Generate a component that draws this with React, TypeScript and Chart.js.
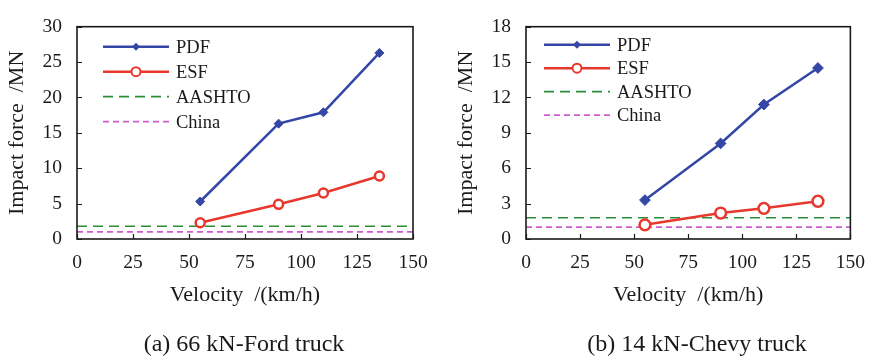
import React, { useEffect, useRef } from "react";
import { Chart, registerables } from "chart.js";

Chart.register(...registerables);

// Impact velocities (km/h) at which each truck model was run
const velocities = [55, 90, 110, 135];

// Peak impact force, MN — 66 kN Ford truck
const fordPdf = [5.3, 16.3, 17.9, 26.3];
const fordEsf = [2.3, 4.9, 6.5, 8.9];

// Peak impact force, MN — 14 kN Chevy truck
const chevyPdf = [3.3, 8.1, 11.4, 14.5];
const chevyEsf = [1.2, 2.2, 2.6, 3.2];

// Design code static loads, MN
const aashtoLimit = 1.8;
const chinaLimit = 1.0;

const velocityMin = 0;
const velocityMax = 150;
const velocityStep = 25;
const fordForceMax = 30;
const fordForceStep = 5;
const chevyForceMax = 18;
const chevyForceStep = 3;

const seriesNames = ["PDF", "ESF", "AASHTO", "China"];
const captions = ["(a) 66 kN-Ford truck", "(b) 14 kN-Chevy truck"];
const xTitle = "Velocity  /(km/h)";
const yTitle = "Impact force  /MN";

const SERIF = "'Liberation Serif', 'Times New Roman', serif";
const BLUE = "#3447a6";
const RED = "#e8372c";
const GREEN = "#2a8f34";
const MAGENTA = "#cf5ccd";
const INK = "#1a1a1a";

type PanelSpec = {
  width: number;
  pdf: number[];
  esf: number[];
  yMax: number;
  yStep: number;
  yAxisWidth: number;
  yTitlePad: number;
  padTop: number;
  padRight: number;
  markerScale: number;
  legend: { dx: number; dy: number; gap: number };
};

// Box frame, inward tick marks and an in-plot legend
const framePlugin = {
  id: "frame",
  afterDraw(chart: any, _args: any, opts: any) {
    const { ctx, chartArea: a, scales } = chart;
    ctx.save();
    ctx.strokeStyle = INK;
    ctx.lineWidth = 1.6;
    ctx.strokeRect(a.left, a.top, a.right - a.left, a.bottom - a.top);

    ctx.beginPath();
    ctx.lineWidth = 1.2;
    for (const t of scales.x.ticks) {
      const px = Math.round(scales.x.getPixelForValue(t.value)) + 0.5;
      ctx.moveTo(px, a.bottom);
      ctx.lineTo(px, a.bottom - 5);
    }
    for (const t of scales.y.ticks) {
      const py = Math.round(scales.y.getPixelForValue(t.value)) + 0.5;
      ctx.moveTo(a.left, py);
      ctx.lineTo(a.left + 5, py);
    }
    ctx.stroke();

    // legend
    const x0 = a.left + opts.dx;
    const lineLen = 66;
    chart.data.datasets.forEach((ds: any, i: number) => {
      const y = a.top + opts.dy + i * opts.gap;
      ctx.save();
      ctx.strokeStyle = ds.borderColor;
      ctx.lineWidth = ds.borderWidth;
      ctx.setLineDash(ds.borderDash || []);
      ctx.beginPath();
      ctx.moveTo(x0, y);
      ctx.lineTo(x0 + lineLen, y);
      ctx.stroke();
      ctx.setLineDash([]);
      const cx = x0 + lineLen / 2;
      if (ds.pointStyle === "rectRot") {
        const r = 4;
        ctx.fillStyle = ds.borderColor;
        ctx.beginPath();
        ctx.moveTo(cx, y - r);
        ctx.lineTo(cx + r, y);
        ctx.lineTo(cx, y + r);
        ctx.lineTo(cx - r, y);
        ctx.closePath();
        ctx.fill();
      } else if (ds.pointStyle === "circle" && ds.pointRadius > 0) {
        ctx.fillStyle = "#fff";
        ctx.lineWidth = 2;
        ctx.beginPath();
        ctx.arc(cx, y, 4.5, 0, Math.PI * 2);
        ctx.fill();
        ctx.stroke();
      }
      ctx.fillStyle = INK;
      ctx.font = `18.5px ${SERIF}`;
      ctx.textBaseline = "middle";
      ctx.textAlign = "left";
      ctx.fillText(ds.label, x0 + lineLen + 7, y + 1);
      ctx.restore();
    });
    ctx.restore();
  },
};

function points(ys: number[]) {
  return velocities.map((v, i) => ({ x: v, y: ys[i] }));
}

function levelLine(y: number) {
  return [
    { x: velocityMin, y },
    { x: velocityMax, y },
  ];
}

function Panel({ spec }: { spec: PanelSpec }) {
  const ref = useRef<HTMLCanvasElement | null>(null);

  useEffect(() => {
    if (!ref.current) return;
    const m = spec.markerScale;
    const chart = new Chart(ref.current, {
      type: "line",
      data: {
        datasets: [
          {
            label: seriesNames[0],
            data: points(spec.pdf),
            borderColor: BLUE,
            backgroundColor: BLUE,
            borderWidth: 2.5,
            pointStyle: "rectRot",
            pointRadius: 4.5 * m,
            pointBackgroundColor: BLUE,
            pointBorderColor: BLUE,
            pointBorderWidth: 1,
          },
          {
            label: seriesNames[1],
            data: points(spec.esf),
            borderColor: RED,
            backgroundColor: RED,
            borderWidth: 2.5,
            pointStyle: "circle",
            pointRadius: 4.5 * m,
            pointBackgroundColor: "#ffffff",
            pointBorderColor: RED,
            pointBorderWidth: 2.5,
          },
          {
            label: seriesNames[2],
            data: levelLine(aashtoLimit),
            borderColor: GREEN,
            borderWidth: 1.7,
            borderDash: [10, 6],
            pointRadius: 0,
            pointStyle: "line",
          },
          {
            label: seriesNames[3],
            data: levelLine(chinaLimit),
            borderColor: MAGENTA,
            borderWidth: 1.7,
            borderDash: [6, 4],
            pointRadius: 0,
            pointStyle: "line",
          },
        ],
      },
      options: {
        animation: false,
        responsive: false,
        maintainAspectRatio: false,
        layout: {
          padding: { top: spec.padTop, right: spec.padRight, bottom: 48, left: 0 },
        },
        plugins: {
          legend: { display: false },
          tooltip: { enabled: false },
          frame: spec.legend,
        } as any,
        scales: {
          x: {
            type: "linear",
            min: velocityMin,
            max: velocityMax,
            ticks: {
              stepSize: velocityStep,
              padding: 12,
              color: INK,
              font: { family: SERIF, size: 19.5 },
            },
            grid: { drawOnChartArea: false, drawTicks: false },
            border: { display: false },
            title: {
              display: true,
              text: xTitle,
              color: INK,
              font: { family: SERIF, size: 22 },
              padding: { top: 0, bottom: 0 },
            },
            afterFit(s: any) {
              s.height = 69;
            },
          },
          y: {
            type: "linear",
            min: 0,
            max: spec.yMax,
            ticks: {
              stepSize: spec.yStep,
              padding: 15,
              color: INK,
              font: { family: SERIF, size: 19.5 },
            },
            grid: { drawOnChartArea: false, drawTicks: false },
            border: { display: false },
            title: {
              display: true,
              text: yTitle,
              color: INK,
              font: { family: SERIF, size: 22 },
              padding: { top: spec.yTitlePad, bottom: 0 },
            },
            afterFit(s: any) {
              s.width = spec.yAxisWidth;
            },
          },
        },
      },
      plugins: [framePlugin],
    } as any);
    return () => chart.destroy();
  }, [spec]);

  return (
    <canvas
      ref={ref}
      width={spec.width}
      height={356}
      style={{ width: spec.width, height: 356, display: "block" }}
    />
  );
}

const fordSpec: PanelSpec = {
  width: 440,
  pdf: fordPdf,
  esf: fordEsf,
  yMax: fordForceMax,
  yStep: fordForceStep,
  yAxisWidth: 77,
  yTitlePad: 4,
  padTop: 17,
  padRight: 27,
  markerScale: 1,
  legend: { dx: 26, dy: 20, gap: 25 },
};

const chevySpec: PanelSpec = {
  width: 437,
  pdf: chevyPdf,
  esf: chevyEsf,
  yMax: chevyForceMax,
  yStep: chevyForceStep,
  yAxisWidth: 86,
  yTitlePad: 13,
  padTop: 14,
  padRight: 20,
  markerScale: 1.2,
  legend: { dx: 18, dy: 18, gap: 23.5 },
};

const captionStyle: React.CSSProperties = {
  position: "absolute",
  top: 329,
  width: 400,
  textAlign: "center",
  fontFamily: SERIF,
  fontSize: 24,
  lineHeight: "28px",
  color: INK,
  whiteSpace: "nowrap",
};

export default function App() {
  return (
    <div
      style={{
        position: "absolute",
        left: 0,
        top: 0,
        width: 877,
        height: 356,
        background: "#ffffff",
        overflow: "hidden",
      }}
    >
      <div style={{ position: "absolute", left: 0, top: 0 }}>
        <Panel spec={fordSpec} />
      </div>
      <div style={{ position: "absolute", left: 440, top: 0 }}>
        <Panel spec={chevySpec} />
      </div>
      <div style={{ ...captionStyle, left: 244 - 200 }}>{captions[0]}</div>
      <div style={{ ...captionStyle, left: 697 - 200 }}>{captions[1]}</div>
    </div>
  );
}
